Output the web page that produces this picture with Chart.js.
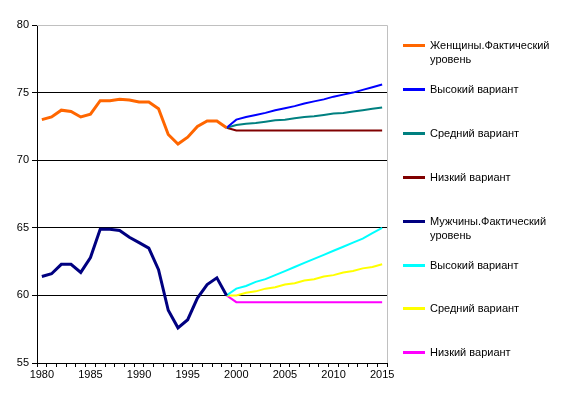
<!DOCTYPE html>
<html>
<head>
<meta charset="utf-8">
<script src="https://cdn.jsdelivr.net/npm/chart.js@4"></script>
<style>
  body { margin: 0; background: #fff; }
  #wrap { position: relative; width: 562px; height: 395px; }
  #legend { position: absolute; left: 0; top: 0; font: 11px "Liberation Sans", Arial, sans-serif; color: #000; }
  .lg-item { position: absolute; left: 403px; display: flex; align-items: flex-start; line-height: 14px; }
  .lg-line { width: 22px; height: 3px; margin-top: 6px; margin-right: 5px; flex: none; }
</style>
</head>
<body>
<div id="wrap">
  <canvas id="chart" width="562" height="395"></canvas>
  <div id="legend"></div>
</div>
<script>
// years on the x axis
const years = [];
for (let y = 1980; y <= 2015; y++) years.push(String(y));

// actual values 1980-1999
const womenActual = [73.0, 73.2, 73.7, 73.6, 73.2, 73.4, 74.4, 74.4, 74.5, 74.45, 74.3, 74.3, 73.8, 71.9, 71.2, 71.7, 72.5, 72.9, 72.9, 72.4];
const menActual   = [61.4, 61.6, 62.3, 62.3, 61.7, 62.8, 64.9, 64.9, 64.8, 64.3, 63.9, 63.5, 61.9, 58.9, 57.6, 58.2, 59.8, 60.8, 61.3, 60.0];

// projections 1999-2015
const womenHigh = [72.4, 73.0, 73.2, 73.35, 73.5, 73.7, 73.85, 74.0, 74.2, 74.35, 74.5, 74.7, 74.85, 75.0, 75.2, 75.4, 75.6];
const womenMid  = [72.4, 72.6, 72.7, 72.75, 72.85, 72.95, 73.0, 73.1, 73.2, 73.25, 73.35, 73.45, 73.5, 73.6, 73.7, 73.8, 73.9];
const womenLow  = [72.4, 72.2, 72.2, 72.2, 72.2, 72.2, 72.2, 72.2, 72.2, 72.2, 72.2, 72.2, 72.2, 72.2, 72.2, 72.2, 72.2];
const menHigh   = [60.0, 60.5, 60.7, 61.0, 61.2, 61.5, 61.8, 62.1, 62.4, 62.7, 63.0, 63.3, 63.6, 63.9, 64.2, 64.6, 65.0];
const menMid    = [60.0, 60.0, 60.2, 60.3, 60.5, 60.6, 60.8, 60.9, 61.1, 61.2, 61.4, 61.5, 61.7, 61.8, 62.0, 62.1, 62.3];
const menLow    = [60.0, 59.5, 59.5, 59.5, 59.5, 59.5, 59.5, 59.5, 59.5, 59.5, 59.5, 59.5, 59.5, 59.5, 59.5, 59.5, 59.5];

const yTicks = [55, 60, 65, 70, 75, 80];

const names = ['Женщины.Фактический уровень', 'Высокий вариант', 'Средний вариант', 'Низкий вариант',
               'Мужчины.Фактический уровень', 'Высокий вариант', 'Средний вариант', 'Низкий вариант'];
const colors = ['#ff6600', '#0000ff', '#008080', '#800000', '#000080', '#00ffff', '#ffff00', '#ff00ff'];

// pad series to the full year range
const actual = arr => arr.concat(Array(years.length - arr.length).fill(null));
const proj = arr => Array(years.length - arr.length).fill(null).concat(arr);

const series = [actual(womenActual), proj(womenHigh), proj(womenMid), proj(womenLow),
                actual(menActual), proj(menHigh), proj(menMid), proj(menLow)];

const frame = {
  id: 'frame',
  afterDraw(chart) {
    const a = chart.chartArea, c = chart.ctx;
    c.save();
    c.strokeStyle = '#c0c0c0';
    c.lineWidth = 1;
    c.beginPath();
    c.moveTo(a.left, a.top + 0.5);
    c.lineTo(a.right + 0.5, a.top + 0.5);
    c.lineTo(a.right + 0.5, a.bottom);
    c.stroke();
    c.restore();
  }
};

new Chart(document.getElementById('chart'), {
  type: 'line',
  data: {
    labels: years,
    datasets: series.map((d, i) => ({
      label: names[i],
      data: d,
      borderColor: colors[i],
      backgroundColor: colors[i],
      borderWidth: (i === 0 || i === 4) ? 3 : 2,
      pointRadius: 0,
      tension: 0,
      fill: false,
      spanGaps: false
    }))
  },
  options: {
    responsive: false,
    animation: false,
    layout: { padding: { left: 0, right: 175, top: 25, bottom: 0 } },
    plugins: { legend: { display: false }, tooltip: { enabled: false } },
    scales: {
      x: {
        offset: true,
        grid: { offset: true, drawOnChartArea: false, tickLength: 4, tickColor: '#000' },
        border: { color: '#000', width: 1 },
        ticks: {
          autoSkip: false, maxRotation: 0, padding: 1, color: '#000',
          font: { family: 'Liberation Sans', size: 11 },
          callback: (v, i) => i % 5 === 0 ? years[i] : ''
        },
        afterFit: s => { s.height = 32; }
      },
      y: {
        min: 55, max: 80,
        afterBuildTicks: s => { s.ticks = yTicks.map(v => ({ value: v })); },
        grid: { color: c => c.tick && c.tick.value === 80 ? '#c0c0c0' : '#000', tickLength: 5, tickColor: '#000' },
        border: { color: '#000', width: 1 },
        ticks: { padding: 3, color: '#000', font: { family: 'Liberation Sans', size: 11 } },
        afterFit: s => { s.width = 37; }
      }
    }
  },
  plugins: [frame]
});

// legend on the right
const legend = document.getElementById('legend');
names.forEach((n, i) => {
  const item = document.createElement('div');
  item.className = 'lg-item';
  item.style.top = (38 + i * 43.9) + 'px';
  const line = document.createElement('span');
  line.className = 'lg-line';
  line.style.background = colors[i];
  const txt = document.createElement('span');
  txt.style.width = '125px';
  txt.textContent = n;
  item.appendChild(line);
  item.appendChild(txt);
  legend.appendChild(item);
});
</script>
</body>
</html>
